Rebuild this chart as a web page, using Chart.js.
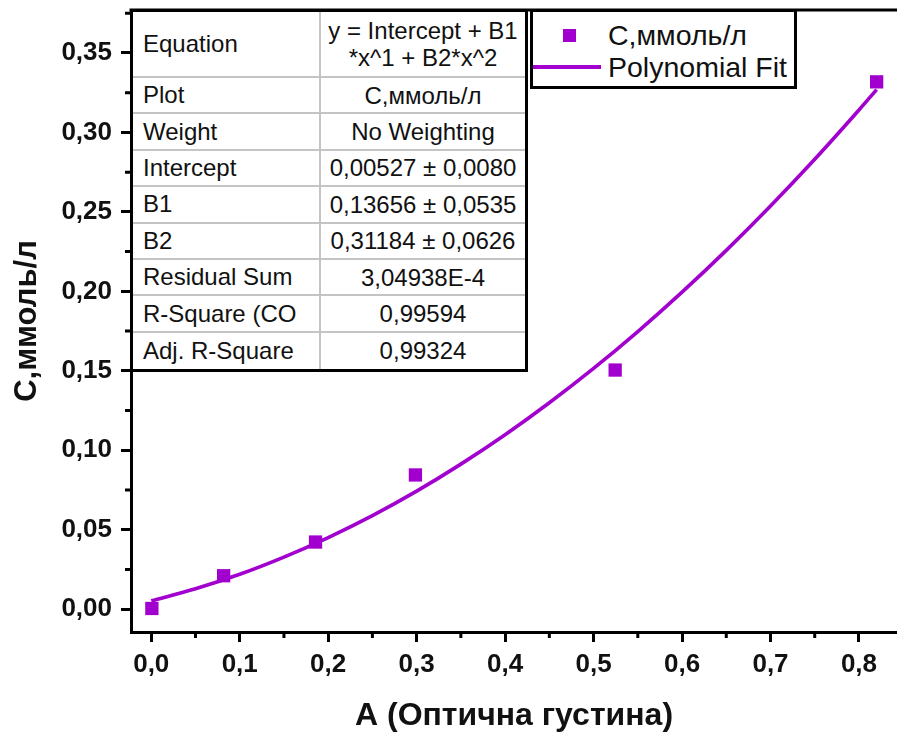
<!DOCTYPE html>
<html><head><meta charset="utf-8">
<script src="https://cdn.jsdelivr.net/npm/chart.js@4.4.1/dist/chart.umd.min.js"></script>
<style>
body{margin:0;background:#fff;}
#wrap{position:relative;width:897px;height:735px;overflow:hidden;font-family:'Liberation Sans',Arial,sans-serif;color:#111;}
canvas{position:absolute;left:0;top:0;}
#tbl{position:absolute;left:130px;top:9px;width:398px;height:363px;border:3px solid #000;box-sizing:border-box;background:#fff;display:flex;flex-direction:column;}
.row{display:flex;border-bottom:2px solid #c4c4c4;box-sizing:border-box;height:36.4px;flex:none;}
.row.eq{height:66px;}
.row:last-child{border-bottom:none;flex:1;}
.c1{width:188px;flex:none;border-right:2px solid #c4c4c4;box-sizing:border-box;padding-left:10px;display:flex;align-items:center;font-size:24px;white-space:nowrap;overflow:hidden;}
.c2{flex:1;display:flex;align-items:center;justify-content:center;text-align:center;font-size:24px;line-height:27px;white-space:nowrap;}
#leg{position:absolute;left:530px;top:9px;width:267px;height:80px;border:3px solid #000;box-sizing:border-box;background:#fff;}
.li{position:absolute;left:75px;font-size:28.5px;white-space:nowrap;line-height:32px;}
#sym1{position:absolute;left:30px;top:17px;width:13px;height:13px;}
#sym2{position:absolute;left:0px;top:53px;width:68px;height:3.5px;}
</style>
</head><body>
<div id="wrap">
<canvas id="c" width="897" height="735"></canvas>
<div id="tbl"></div>
<div id="leg"><div id="sym1"></div><div class="li" id="lt1" style="top:7px"></div><div id="sym2"></div><div class="li" id="lt2" style="top:39px"></div></div>
</div>
<script>
// ---- data ----
const xValues = [0.0007, 0.0818, 0.1857, 0.2986, 0.5244, 0.8200];
const yValues = [0.0005, 0.0211, 0.0423, 0.0845, 0.1505, 0.3318];
const fitX = [0, 0.05, 0.1, 0.15, 0.2, 0.25, 0.3, 0.35, 0.4, 0.45, 0.5, 0.55, 0.6, 0.65, 0.7, 0.75, 0.8, 0.82];
const fitY = [0.0053, 0.0129, 0.0220, 0.0328, 0.0451, 0.0589, 0.0743, 0.0913, 0.1098, 0.1299, 0.1515, 0.1747, 0.1995, 0.2258, 0.2537, 0.2831, 0.3141, 0.3269];
const xTicks = [0, 0.1, 0.2, 0.3, 0.4, 0.5, 0.6, 0.7, 0.8];
const xTickLabels = ['0,0','0,1','0,2','0,3','0,4','0,5','0,6','0,7','0,8'];
const yTicks = [0, 0.05, 0.10, 0.15, 0.20, 0.25, 0.30, 0.35];
const yTickLabels = ['0,00','0,05','0,10','0,15','0,20','0,25','0,30','0,35'];
const xMinor = [0.05, 0.15, 0.25, 0.35, 0.45, 0.55, 0.65, 0.75];
const yMinor = [0.025, 0.075, 0.125, 0.175, 0.225, 0.275, 0.325, 0.375];
const seriesLabel = 'С,ммоль/л';
const fitLabel = 'Polynomial Fit';
const xTitle = 'A (Оптична густина)';
const yTitle = 'С,ммоль/л';
const tableLabels = ['Equation','Plot','Weight','Intercept','B1','B2','Residual Sum','R-Square (CO','Adj. R-Square'];
const tableValues = ['y = Intercept + B1<br>*x^1 + B2*x^2','С,ммоль/л','No Weighting','0,00527 ± 0,0080','0,13656 ± 0,0535','0,31184 ± 0,0626','3,04938E-4','0,99594','0,99324'];

const purple = '#A200CF';
const FONT = "'Liberation Sans', Arial, sans-serif";

// table
const tbl = document.getElementById('tbl');
tableLabels.forEach((l, i) => {
  const r = document.createElement('div');
  r.className = 'row' + (i === 0 ? ' eq' : '');
  r.innerHTML = '<div class="c1">' + l + '</div><div class="c2">' + tableValues[i] + '</div>';
  tbl.appendChild(r);
});
// legend
document.getElementById('lt1').textContent = seriesLabel;
document.getElementById('lt2').textContent = fitLabel;
document.getElementById('sym1').style.background = purple;
document.getElementById('sym2').style.background = purple;

const framePlugin = {
  id: 'frame',
  afterDraw(chart) {
    const ctx = chart.ctx, a = chart.chartArea;
    const xs = chart.scales.x, ys = chart.scales.y;
    ctx.save();
    ctx.strokeStyle = '#000';
    ctx.lineWidth = 3;
    ctx.beginPath();
    ctx.moveTo(a.left - 1.5, a.top);
    ctx.lineTo(a.right + 2, a.top);
    ctx.stroke();
    ctx.beginPath();
    xMinor.forEach(v => { const p = xs.getPixelForValue(v); ctx.moveTo(p, a.bottom); ctx.lineTo(p, a.bottom + 6); });
    yMinor.forEach(v => { const p = ys.getPixelForValue(v); ctx.moveTo(a.left, p); ctx.lineTo(a.left - 6, p); });
    ctx.stroke();
    ctx.restore();
  }
};

new Chart(document.getElementById('c'), {
  type: 'scatter',
  data: {
    datasets: [
      { label: seriesLabel, data: xValues.map((x, i) => ({x, y: yValues[i]})),
        pointStyle: 'rect', pointRadius: 9.4, pointHoverRadius: 9.4, backgroundColor: purple, borderWidth: 0, order: 1 },
      { label: fitLabel, type: 'line', data: fitX.map((x, i) => ({x, y: fitY[i]})),
        borderColor: purple, borderWidth: 3.6, pointRadius: 0, cubicInterpolationMode: 'monotone', fill: false, order: 2 }
    ]
  },
  options: {
    responsive: false, animation: false,
    layout: { autoPadding: false, padding: { top: 10, right: 0, left: 0, bottom: 0 } },
    plugins: { legend: { display: false }, tooltip: { enabled: false } },
    scales: {
      x: {
        type: 'linear', min: -0.0229, max: 0.843,
        afterBuildTicks: s => { s.ticks = xTicks.map(v => ({ value: v })); },
        afterFit: s => { s.height = 103; s.paddingLeft = 0; s.paddingRight = 0; },
        ticks: { callback: (v, i) => xTickLabels[i], autoSkip: false, maxRotation: 0, padding: 7,
                 color: '#111', font: { family: FONT, size: 26, weight: 'bold' } },
        grid: { drawOnChartArea: false, drawTicks: true, tickLength: 10, tickWidth: 3, tickColor: '#000' },
        border: { display: true, width: 3, color: '#000' },
        title: { display: true, text: xTitle, color: '#111', font: { family: FONT, size: 32, weight: 'bold' }, padding: { top: 4, bottom: 0 } }
      },
      y: {
        type: 'linear', min: -0.0143, max: 0.377,
        afterBuildTicks: s => { s.ticks = yTicks.map(v => ({ value: v })); },
        afterFit: s => { s.width = 131; s.paddingTop = 0; s.paddingBottom = 0; },
        ticks: { callback: (v, i) => yTickLabels[i], autoSkip: false, padding: 9,
                 color: '#111', font: { family: FONT, size: 26, weight: 'bold' } },
        grid: { drawOnChartArea: false, drawTicks: true, tickLength: 10, tickWidth: 3, tickColor: '#000' },
        border: { display: true, width: 3, color: '#000' },
        title: { display: true, text: yTitle, color: '#111', font: { family: FONT, size: 31, weight: 'bold' }, padding: { top: 9, bottom: 0 } }
      }
    }
  },
  plugins: [framePlugin]
});
</script>
</body></html>
